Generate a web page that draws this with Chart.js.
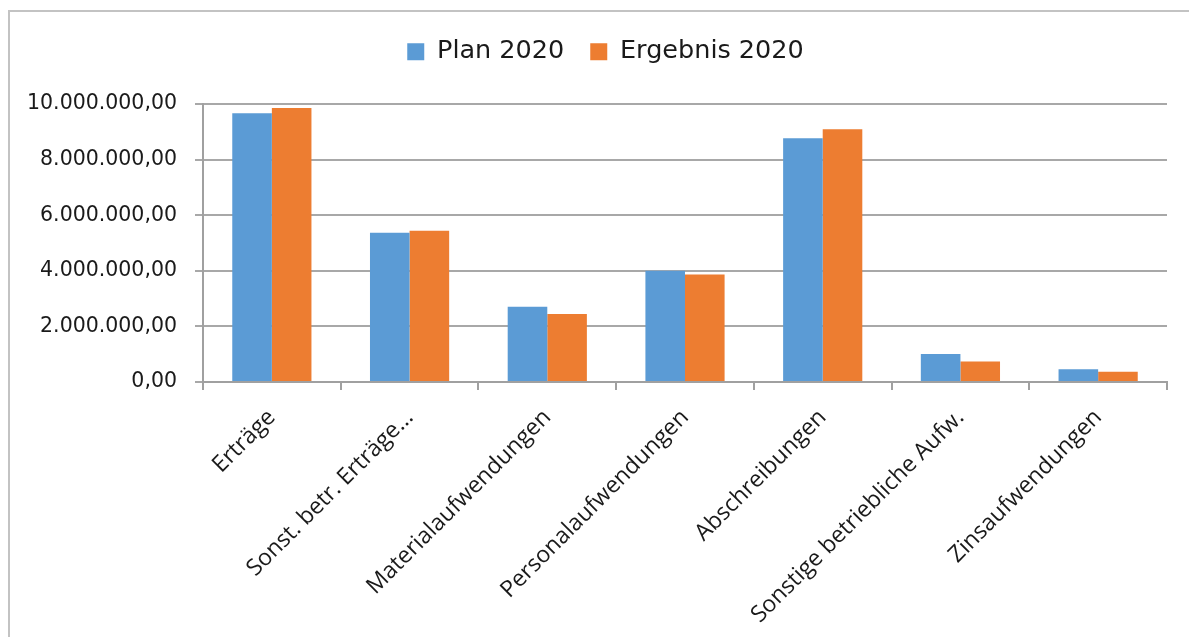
<!DOCTYPE html>
<html>
<head>
<meta charset="utf-8">
<script src="https://cdn.jsdelivr.net/npm/chart.js@4.4.1/dist/chart.umd.min.js"></script>
<style>
  html, body { margin: 0; padding: 0; background: #fff; overflow: hidden; }
  #wrap { position: absolute; left: 0; top: 0; width: 1189px; height: 637px; }
</style>
</head>
<body>
<div id="wrap"><canvas id="c" width="1189" height="637"></canvas></div>
<script>
const categories = ["Erträge", "Sonst. betr. Erträge...", "Materialaufwendungen", "Personalaufwendungen", "Abschreibungen", "Sonstige betriebliche Aufw.", "Zinsaufwendungen"];
const seriesNames = ["Plan 2020", "Ergebnis 2020"];
const plan2020 = [9670000, 5370000, 2710000, 4000000, 8770000, 1010000, 460000];
const ergebnis2020 = [9860000, 5440000, 2450000, 3870000, 9090000, 740000, 370000];
const yTicks = [0, 2000000, 4000000, 6000000, 8000000, 10000000];

function fmtDE(v) {
  const s = Math.round(v).toString().replace(/\B(?=(\d{3})+(?!\d))/g, ".");
  return s + ",00";
}

const legendHeight = {
  id: 'legendHeight',
  beforeInit(chart) {
    const orig = chart.legend.fit;
    chart.legend.fit = function () {
      orig.call(this);
      this.height = 94;
    };
  },
  afterLayout(chart) {
    const lg = chart.legend;
    lg.left += 22; lg.right += 22;
    lg.top += 3; lg.bottom += 3;
  }
};

const frame = {
  id: 'frame',
  beforeDraw(chart) {
    const ctx = chart.ctx;
    ctx.save();
    ctx.fillStyle = '#ffffff';
    ctx.fillRect(0, 0, chart.width, chart.height);
    ctx.strokeStyle = '#c3c3c3';
    ctx.lineWidth = 2;
    ctx.beginPath();
    ctx.moveTo(9, chart.height);
    ctx.lineTo(9, 11);
    ctx.lineTo(chart.width, 11);
    ctx.stroke();
    ctx.restore();
  }
};

new Chart(document.getElementById('c'), {
  type: 'bar',
  data: {
    labels: categories,
    datasets: [
      { label: seriesNames[0], data: plan2020, backgroundColor: '#5b9bd5', categoryPercentage: 0.575, barPercentage: 1.0 },
      { label: seriesNames[1], data: ergebnis2020, backgroundColor: '#ed7d31', categoryPercentage: 0.575, barPercentage: 1.0 }
    ]
  },
  plugins: [legendHeight, frame],
  options: {
    responsive: false,
    animation: false,
    devicePixelRatio: 1,
    layout: { padding: { top: 10, right: 22, bottom: 0, left: 0 } },
    plugins: {
      legend: {
        position: 'top',
        labels: {
          boxWidth: 17, boxHeight: 17, padding: 26,
          color: '#1a1a1a',
          font: { family: 'DejaVu Sans', size: 25.5 }
        }
      },
      tooltip: { enabled: false }
    },
    scales: {
      x: {
        grid: { display: true, drawOnChartArea: false, drawTicks: true, tickLength: 8, color: '#a0a0a0', lineWidth: 2, offset: true },
        border: { display: true, color: '#a0a0a0', width: 2 },
        ticks: {
          color: '#1a1a1a', maxRotation: 45, minRotation: 45, autoSkip: false, padding: 14,
          font: { family: 'Open Sans', size: 23 }
        },
        afterFit(scale) { scale.height = 255; }
      },
      y: {
        min: 0, max: 10000000,
        afterBuildTicks(scale) { scale.ticks = yTicks.map(v => ({ value: v })); },
        grid: { color: '#a8a8a8', lineWidth: 2, tickLength: 8, drawTicks: true },
        border: { display: true, color: '#a0a0a0', width: 2 },
        ticks: {
          color: '#1a1a1a', padding: 18,
          font: { family: 'DejaVu Sans', size: 20.5 },
          callback: (v) => fmtDE(v)
        },
        afterFit(scale) { scale.width = 203; }
      }
    }
  }
});
</script>
</body>
</html>
